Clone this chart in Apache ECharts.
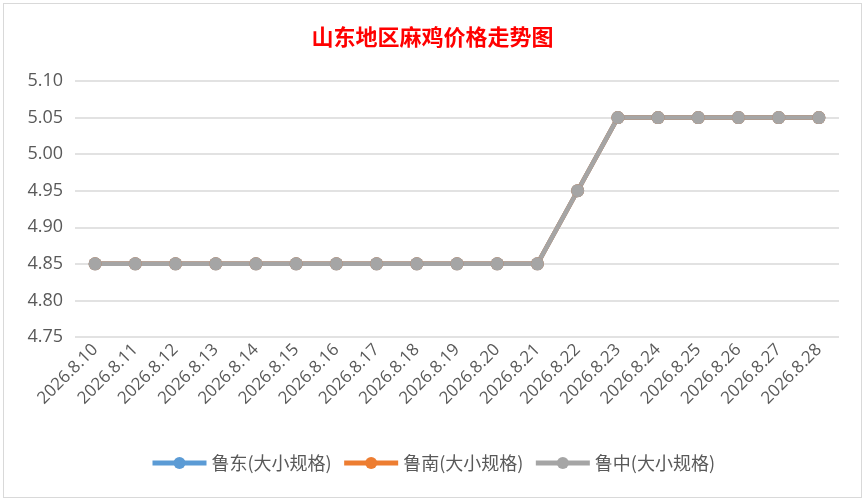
<!DOCTYPE html>
<html>
<head>
<meta charset="utf-8">
<script src="https://cdn.jsdelivr.net/npm/echarts@6/dist/echarts.min.js"></script>
<style>
html,body{margin:0;padding:0;background:#fff;}
#chart{position:absolute;left:3px;top:3px;width:859px;height:495px;border:1.5px solid #d9d9d9;box-sizing:border-box;}
</style>
</head>
<body>
<div id="chart"></div>
<script>
// 日期
var dates = ['2026.8.10','2026.8.11','2026.8.12','2026.8.13','2026.8.14','2026.8.15','2026.8.16',
    '2026.8.17','2026.8.18','2026.8.19','2026.8.20','2026.8.21','2026.8.22','2026.8.23',
    '2026.8.24','2026.8.25','2026.8.26','2026.8.27','2026.8.28'];
// 各地区价格
var ludong = [4.85,4.85,4.85,4.85,4.85,4.85,4.85,4.85,4.85,4.85,4.85,4.85,4.95,5.05,5.05,5.05,5.05,5.05,5.05];
var lunan = [4.85,4.85,4.85,4.85,4.85,4.85,4.85,4.85,4.85,4.85,4.85,4.85,4.95,5.05,5.05,5.05,5.05,5.05,5.05];
var luzhong = [4.85,4.85,4.85,4.85,4.85,4.85,4.85,4.85,4.85,4.85,4.85,4.85,4.95,5.05,5.05,5.05,5.05,5.05,5.05];
var names = ['鲁东(大小规格)','鲁南(大小规格)','鲁中(大小规格)'];
var colors = ['#5b9bd5','#ed7d31','#a5a5a5'];

var chart = echarts.init(document.getElementById('chart'));
function mk(i, data){
    return {
        name: names[i],
        type: 'line',
        data: data,
        symbol: 'circle',
        symbolSize: 13,
        lineStyle: {width: 4.5, color: colors[i]},
        itemStyle: {color: colors[i]},
        animation: false
    };
}
var option = {
    title: {
        text: '山东地区麻鸡价格走势图',
        left: 'center',
        top: 17,
        textStyle: {color: '#ff0000', fontSize: 22, fontWeight: 'bold', fontFamily: 'Noto Sans CJK SC'}
    },
    legend: {
        data: names,
        bottom: 20,
        itemWidth: 54,
        itemHeight: 15,
        itemGap: 10,
        lineStyle: {width: 5},
        textStyle: {color: '#595959', fontSize: 18, fontFamily: 'Noto Sans CJK SC'}
    },
    grid: {left: 71, right: 22, top: 77, bottom: 160},
    xAxis: {
        type: 'category',
        data: dates,
        boundaryGap: true,
        axisLine: {show: false},
        axisTick: {show: false},
        axisLabel: {rotate: 45, color: '#595959', fontSize: 17, fontFamily: 'Open Sans', margin: 10, interval: 0}
    },
    yAxis: {
        type: 'value',
        min: 4.75,
        max: 5.10,
        interval: 0.05,
        axisLabel: {color: '#595959', fontSize: 18, fontFamily: 'Open Sans', margin: 12,
            formatter: function(v){ return v.toFixed(2); }},
        splitLine: {lineStyle: {color: '#d9d9d9', width: 1.5}}
    },
    series: [mk(0, ludong), mk(1, lunan), mk(2, luzhong)]
};
chart.setOption(option);
</script>
</body>
</html>
